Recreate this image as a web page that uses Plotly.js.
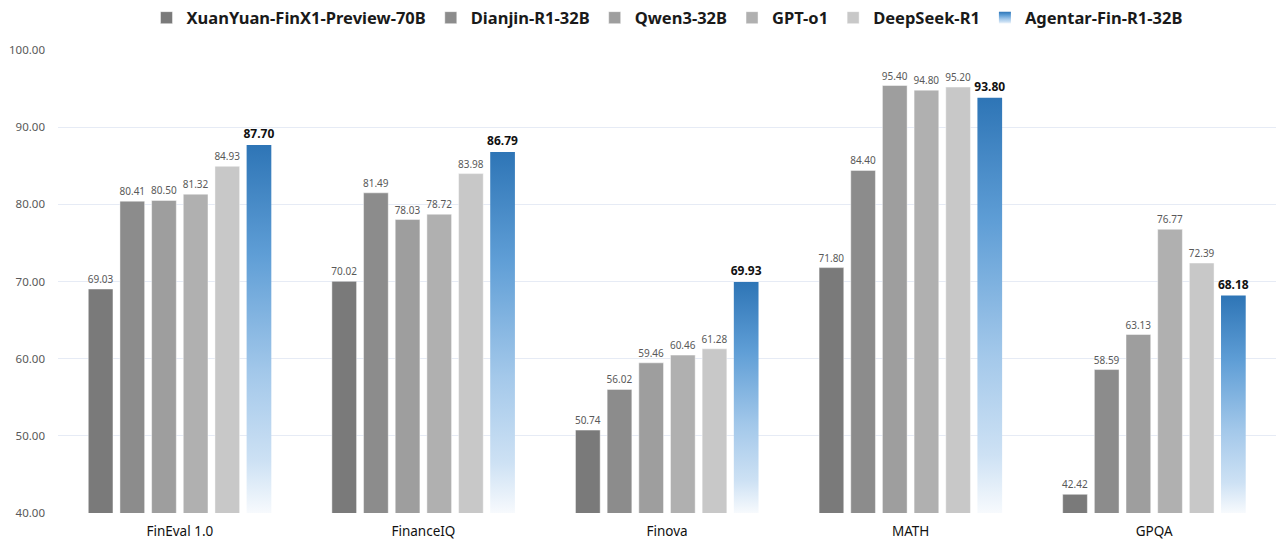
<!DOCTYPE html>
<html>
<head>
<meta charset="utf-8">
<script src="https://cdn.plot.ly/plotly-3.0.1.min.js"></script>
<style>
html,body{margin:0;padding:0;background:#fff;}
#chart{width:1287px;height:543px;}
</style>
</head>
<body>
<div id="chart"></div>
<script>
const categories = ["FinEval 1.0", "FinanceIQ", "Finova", "MATH", "GPQA"];
const seriesNames = ["XuanYuan-FinX1-Preview-70B", "Dianjin-R1-32B", "Qwen3-32B", "GPT-o1", "DeepSeek-R1", "Agentar-Fin-R1-32B"];
const xuanyuan = [69.03, 70.02, 50.74, 71.80, 42.42];
const dianjin = [80.41, 81.49, 56.02, 84.40, 58.59];
const qwen3 = [80.50, 78.03, 59.46, 95.40, 63.13];
const gpto1 = [81.32, 78.72, 60.46, 94.80, 76.77];
const deepseek = [84.93, 83.98, 61.28, 95.20, 72.39];
const agentar = [87.70, 86.79, 69.93, 93.80, 68.18];
const tickValues = [40, 50, 60, 70, 80, 90, 100];

const seriesValues = [xuanyuan, dianjin, qwen3, gpto1, deepseek, agentar];
const colors = ["#7a7a7a", "#8c8c8c", "#9e9e9e", "#b0b0b0", "#c8c8c8", "#5b9bd5"];
const FONT = "Noto Sans, Open Sans, sans-serif";

const traces = seriesValues.map((vals, i) => {
  const last = i === seriesValues.length - 1;
  return {
    type: "bar",
    name: seriesNames[i],
    x: categories,
    y: vals,
    marker: {color: colors[i], line: {color: last ? "rgba(0,0,0,0)" : "rgba(255,255,255,0.45)", width: 1}},
    text: vals.map(v => v.toFixed(2)),
    texttemplate: last ? "<b>%{text}</b>" : "%{text}",
    textposition: "outside",
    constraintext: "none",
    cliponaxis: false,
    textfont: last ? {family: FONT, size: 12, color: "#111111"} : {family: FONT, size: 10, color: "#595959"},
    hoverinfo: "x+y+name"
  };
});

const layout = {
  width: 1287,
  height: 543,
  margin: {l: 58, r: 11, t: 50, b: 30},
  paper_bgcolor: "#ffffff",
  plot_bgcolor: "#ffffff",
  barmode: "group",
  bargap: 0.22,
  bargroupgap: 0.22,
  font: {family: FONT, color: "#595959"},
  showlegend: true,
  legend: {
    orientation: "h",
    xref: "paper", x: 0.5, xanchor: "center",
    yref: "container", y: 0.967, yanchor: "middle",
    font: {family: FONT, size: 16.5, color: "#1a1a1a", weight: "bold"},
    itemwidth: 30,
    traceorder: "normal"
  },
  xaxis: {
    type: "category",
    showgrid: false,
    zeroline: false,
    showline: false,
    ticks: "",
    ticklabelstandoff: 8,
    tickfont: {family: FONT, size: 13.5, color: "#111111"},
    fixedrange: true
  },
  yaxis: {
    range: [40, 100],
    tickvals: tickValues,
    tickformat: ".2f",
    showgrid: true,
    gridcolor: "#e6ebf5",
    gridwidth: 1,
    zeroline: false,
    showline: false,
    ticks: "",
    ticklabelstandoff: 12,
    tickfont: {family: FONT, size: 11.5, color: "#595959"},
    fixedrange: true
  }
};

Plotly.newPlot("chart", traces, layout, {displayModeBar: false, staticPlot: true}).then(gd => {
  const svg = gd.querySelector("svg.main-svg");
  const ns = "http://www.w3.org/2000/svg";
  let defs = svg.querySelector("defs");
  if (!defs) { defs = document.createElementNS(ns, "defs"); svg.insertBefore(defs, svg.firstChild); }
  const stops = [["0", "#2e75b6"], ["0.3", "#5f9ed6"], ["0.62", "#a3c8ea"], ["0.86", "#cde1f4"], ["1", "#f7fafd"]];
  function makeGrad(id, units, y1, y2) {
    const grad = document.createElementNS(ns, "linearGradient");
    grad.setAttribute("id", id);
    grad.setAttribute("gradientUnits", units);
    grad.setAttribute("x1", "0"); grad.setAttribute("x2", "0");
    grad.setAttribute("y1", String(y1)); grad.setAttribute("y2", String(y2));
    stops.forEach(([o, c]) => {
      const s = document.createElementNS(ns, "stop");
      s.setAttribute("offset", o); s.setAttribute("stop-color", c);
      grad.appendChild(s);
    });
    defs.appendChild(grad);
  }
  const plotBottom = gd._fullLayout.yaxis._length;
  const barTraces = gd.querySelectorAll(".barlayer .trace");
  const lastTrace = barTraces[barTraces.length - 1];
  if (lastTrace) lastTrace.querySelectorAll(".point path").forEach((p, k) => {
    const bb = p.getBBox();
    const id = "agentarGrad" + k;
    makeGrad(id, "userSpaceOnUse", bb.y, plotBottom);
    p.style.fill = "url(#" + id + ")";
  });
  makeGrad("agentarLegGrad", "objectBoundingBox", 0, 1);
  const legTraces = gd.querySelectorAll(".legend .traces");
  const lastLeg = legTraces[legTraces.length - 1];
  if (lastLeg) lastLeg.querySelectorAll(".legendpoints path").forEach(p => { p.style.fill = "url(#agentarLegGrad)"; });
});
</script>
</body>
</html>
